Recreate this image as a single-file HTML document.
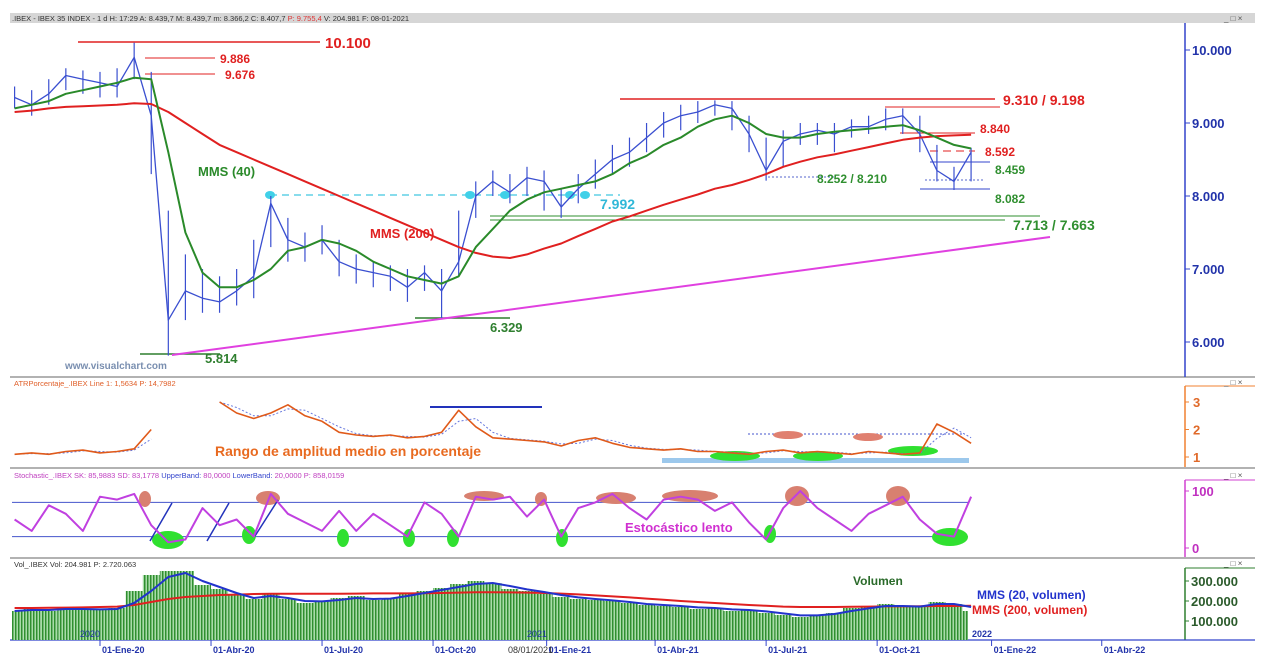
<!DOCTYPE html>
<html><head><meta charset="utf-8"><style>
body{margin:0;background:#fff;font-family:"Liberation Sans",sans-serif;}
svg{display:block}
</style></head><body>
<svg id="c" width="1267" height="667" viewBox="0 0 1267 667" xmlns="http://www.w3.org/2000/svg">
<defs>
<pattern id="volpat" width="3" height="10" patternUnits="userSpaceOnUse"><rect width="1.6" height="10" fill="#2f8f2f"/><rect x="1.6" width="1.4" height="10" fill="#a8dca8"/></pattern>
</defs>
<rect width="1267" height="667" fill="#fff"/>
<rect x="10" y="13" width="1245" height="10" fill="#d6d6d6"/>
<text x="12" y="21" font-size="7.5" fill="#333">.IBEX - IBEX 35 INDEX -  1 d  H: 17:29  A: 8.439,7  M: 8.439,7  m: 8.366,2  C: 8.407,7  <tspan fill="#d33">P: 9.755,4</tspan>  V: 204.981  F: 08-01-2021</text>
<text x="1224" y="21" font-size="8" fill="#555">_ □ ×</text>
<g stroke="#999" stroke-width="1.5" fill="none">
<line x1="10" y1="377" x2="1255" y2="377"/><line x1="10" y1="468" x2="1255" y2="468"/><line x1="10" y1="558" x2="1255" y2="558"/>
</g>
<line x1="1185" y1="23" x2="1185" y2="377" stroke="#3344cc" stroke-width="1.5"/>
<line x1="1185" y1="386" x2="1185" y2="467" stroke="#f08030" stroke-width="1.5"/><line x1="1185" y1="386" x2="1255" y2="386" stroke="#f08030"/>
<line x1="1185" y1="480" x2="1185" y2="557" stroke="#d040d0" stroke-width="1.5"/><line x1="1185" y1="480" x2="1255" y2="480" stroke="#d040d0"/>
<line x1="1185" y1="568" x2="1185" y2="640" stroke="#2f7f2f" stroke-width="1.5"/><line x1="1185" y1="568" x2="1255" y2="568" stroke="#2f7f2f"/>
<line x1="10" y1="640" x2="1255" y2="640" stroke="#3344cc" stroke-width="1.2"/>
<g font-size="8" fill="#555"><text x="1224" y="385">_ □ ×</text><text x="1224" y="478">_ □ ×</text><text x="1224" y="566">_ □ ×</text></g>
<text x="14" y="386" font-size="7.5" fill="#e0602a">ATRPorcentaje_.IBEX Line 1: 1,5634  P: 14,7982</text>
<text x="14" y="478" font-size="7.5" fill="#c040c0">Stochastic_.IBEX  SK: 85,9883  SD: 83,1778  <tspan fill="#3344cc">UpperBand:</tspan> 80,0000  <tspan fill="#3344cc">LowerBand:</tspan> 20,0000  P: 858,0159</text>
<text x="14" y="567" font-size="7.5" fill="#333">Vol_.IBEX  Vol: 204.981  P: 2.720.063</text>
<g id="g"></g>
</svg>
<script>
const priceClose=[9.35,9.25,9.4,9.65,9.6,9.55,9.5,9.9,9.1,6.3,6.7,6.6,6.55,6.7,6.9,7.9,7.4,7.3,7.4,7.1,7.0,6.95,6.9,6.75,6.95,6.7,7.1,8.0,8.2,8.05,8.25,8.2,7.85,8.1,8.3,8.5,8.6,8.8,9.0,9.1,9.15,9.25,9.2,8.85,8.35,8.75,8.85,8.9,8.85,8.95,8.95,9.05,9.1,8.85,8.35,8.2,8.6];
const priceHigh=[9.5,9.45,9.6,9.75,9.72,9.7,9.75,10.1,9.7,7.8,7.2,7.0,6.9,7.0,7.4,8.0,7.7,7.5,7.6,7.4,7.2,7.1,7.05,7.0,7.05,7.0,7.8,8.2,8.35,8.3,8.4,8.35,8.1,8.3,8.5,8.7,8.8,9.0,9.15,9.25,9.3,9.31,9.3,9.1,8.8,8.9,9.0,9.0,9.0,9.05,9.1,9.2,9.2,9.1,8.7,8.4,8.66];
const priceLow=[9.2,9.1,9.25,9.45,9.4,9.35,9.35,9.6,8.3,5.814,6.3,6.4,6.4,6.5,6.6,7.3,7.1,7.1,7.2,6.9,6.8,6.75,6.7,6.55,6.7,6.329,6.9,7.7,8.0,7.9,8.0,7.8,7.7,7.9,8.1,8.3,8.4,8.6,8.8,8.9,9.0,9.1,8.9,8.6,8.21,8.4,8.7,8.7,8.6,8.8,8.85,8.9,8.85,8.6,8.2,8.082,8.2];
const mms40=[9.2,9.25,9.3,9.4,9.45,9.5,9.55,9.62,9.6,8.6,7.5,6.95,6.75,6.75,6.85,7.0,7.25,7.3,7.4,7.35,7.25,7.1,7.0,6.9,6.85,6.8,6.9,7.3,7.55,7.8,7.95,8.05,8.1,8.15,8.2,8.3,8.45,8.55,8.7,8.8,8.95,9.05,9.1,9.0,8.85,8.8,8.8,8.85,8.88,8.9,8.92,8.95,8.97,8.9,8.8,8.7,8.65];
const mms200=[9.15,9.17,9.2,9.22,9.23,9.24,9.25,9.27,9.26,9.15,9.0,8.85,8.7,8.6,8.5,8.4,8.3,8.2,8.1,8.0,7.9,7.8,7.7,7.6,7.5,7.4,7.3,7.22,7.17,7.15,7.2,7.28,7.35,7.45,7.55,7.65,7.72,7.8,7.88,7.95,8.02,8.1,8.15,8.22,8.3,8.4,8.47,8.53,8.57,8.62,8.67,8.72,8.77,8.8,8.82,8.83,8.84];
const atr=[1.1,1.15,1.1,1.2,1.25,1.15,1.2,1.3,2.0,null,null,null,3.0,2.6,2.4,2.6,2.9,2.5,2.3,1.9,1.8,1.75,1.8,1.7,1.75,1.9,2.7,2.1,1.7,1.65,1.6,1.55,1.4,1.6,1.7,1.5,1.35,1.3,1.25,1.3,1.2,1.2,1.15,1.1,1.2,1.25,1.15,1.2,1.15,1.1,1.2,1.15,1.1,1.15,2.2,1.9,1.5];
const stoch=[50,30,75,60,30,90,85,95,40,10,15,70,40,50,20,95,60,45,30,65,30,60,40,20,80,60,20,90,85,90,55,85,20,70,80,95,70,50,85,90,85,65,80,45,15,70,100,70,50,30,60,75,90,50,25,20,90];
const volume=[150,160,150,170,160,155,165,250,330,370,350,280,260,230,210,240,210,190,200,215,225,205,215,235,250,265,285,300,290,260,250,235,220,210,205,200,190,180,175,170,160,165,150,155,140,130,120,130,140,165,175,185,170,175,195,185,150];
const volMa20=[150,155,155,160,160,158,160,190,250,320,340,300,270,240,215,225,215,200,198,205,215,210,212,225,240,255,270,285,290,275,258,245,230,218,210,203,195,185,180,175,168,165,158,155,148,138,128,128,135,150,163,175,175,172,185,185,170];
const volMa200=[165,165,166,167,168,170,172,180,195,210,220,225,230,232,235,236,236,236,236,236,237,238,238,238,239,240,242,244,244,243,242,240,237,233,228,223,218,212,206,200,195,190,185,180,176,172,170,170,170,171,172,173,173,174,175,175,176];
const priceTicks=["6.000","7.000","8.000","9.000","10.000"];
const atrTicks=["1","2","3"];
const stochTicks=["0","100"];
const volTicks=["100.000","200.000","300.000"];
const dateLabels=["01-Ene-20","01-Abr-20","01-Jul-20","01-Oct-20","01-Ene-21","01-Abr-21","01-Jul-21","01-Oct-21","01-Ene-22","01-Abr-22"];
const dateWeeks=[0,13,26,39,52.3,65,78,91,104.4,117.3];

const NS="http://www.w3.org/2000/svg",G=document.getElementById('g');
const xW=w=>100+w*8.54;
const xI=i=>xW(-10+2*i);
const yP=v=>196-(v-8)*73;
const yA=v=>457-(v-1)*27.5;
const yS=v=>548-v*0.57;
const yV=v=>641-v*0.2;
function el(t,a,p){const e=document.createElementNS(NS,t);for(const k in a)e.setAttribute(k,a[k]);(p||G).appendChild(e);return e;}
function txt(x,y,s,a){const e=el('text',Object.assign({x:x,y:y},a));e.textContent=s;return e;}
function poly(arr,yf,stroke,w,extra){let segs=[],cur=[];arr.forEach((v,i)=>{if(v==null){if(cur.length)segs.push(cur);cur=[];}else cur.push(xI(i).toFixed(1)+','+yf(v).toFixed(1));});if(cur.length)segs.push(cur);return segs.map(s=>el('polyline',Object.assign({points:s.join(' '),fill:'none',stroke:stroke,'stroke-width':w,'stroke-linejoin':'round'},extra||{})));}

txt(65,369,'www.visualchart.com',{'font-size':10,fill:'#7a8fb0','font-weight':'bold'});

priceTicks.forEach(t=>{const v=parseFloat(t.replace('.',''))/1000;const y=yP(v);
 const l=el('line',{x1:1185,y1:y,x2:1190,y2:y,stroke:'#3344cc'});
 const e=txt(1192,y+5,t,{'font-size':13,'font-weight':'bold',fill:'#2233aa'});});
atrTicks.forEach(t=>{const y=yA(+t);el('line',{x1:1185,y1:y,x2:1189,y2:y,stroke:'#f08030'});
 const e=txt(1193,y+5,t,{'font-size':13,'font-weight':'bold',fill:'#e06a2a'});});
stochTicks.forEach(t=>{const y=yS(+t);el('line',{x1:1185,y1:y,x2:1189,y2:y,stroke:'#d040d0'});
 const e=txt(1192,y+5,t,{'font-size':13,'font-weight':'bold',fill:'#c030c0'});});
volTicks.forEach(t=>{const v=parseFloat(t.replace('.',''))/1000*1;const y=yV(v);el('line',{x1:1185,y1:y,x2:1189,y2:y,stroke:'#2f7f2f'});
 const e=txt(1191,y+5,t,{'font-size':13,'font-weight':'bold',fill:'#2a5a2a'});});

const ann=[[78,42,320,42,'#e02020',1.5],[145,58,215,58,'#e02020',1],[145,74,215,74,'#e02020',1],[620,99,995,99,'#e02020',1.5],[885,107,1000,107,'#e02020',1],[900,133,975,133,'#e02020',1],[930,162,990,162,'#3344cc',1],[920,189,990,189,'#3344cc',1],[490,216,1040,216,'#2f8f2f',1],[490,220,1005,220,'#2f8f2f',1],[415,318,510,318,'#2f7f2f',1.5],[140,354,220,354,'#2f7f2f',1.5]];
ann.forEach(a=>el('line',{x1:a[0],y1:a[1],x2:a[2],y2:a[3],stroke:a[4],'stroke-width':a[5]}));
el('line',{x1:930,y1:151,x2:975,y2:151,stroke:'#e02020','stroke-dasharray':'8,5'});
el('line',{x1:768,y1:177,x2:835,y2:177,stroke:'#5566cc','stroke-dasharray':'2,2'});
el('line',{x1:925,y1:180,x2:985,y2:180,stroke:'#5566cc','stroke-dasharray':'2,2'});
el('line',{x1:270,y1:195,x2:620,y2:195,stroke:'#40c8e0','stroke-dasharray':'7,5','stroke-width':1.2});
[270,470,505,570,585].forEach(x=>el('ellipse',{cx:x,cy:195,rx:5,ry:4,fill:'#40d0e8'}));
const trend=el('line',{x1:172,y1:355,x2:1050,y2:237,stroke:'#e040e0','stroke-width':2});

priceClose.forEach((c,i)=>{const x=xI(i);const b=el('line',{x1:x,y1:yP(priceHigh[i]),x2:x,y2:yP(priceLow[i]),stroke:'#3a4fd0','stroke-width':1.2});
 });
poly(priceClose,yP,'#3a4fd0',1.3).forEach(p=>{});
poly(mms200,yP,'#e02020',2).forEach(p=>{});
poly(mms40,yP,'#2a8a2a',2).forEach(p=>{});

const labs=[[325,48,'10.100','#e02020',15],[220,63,'9.886','#e02020',12],[225,79,'9.676','#e02020',12],[1003,105,'9.310 / 9.198','#e02020',14],[980,133,'8.840','#e02020',12],[985,156,'8.592','#e02020',12],[995,174,'8.459','#2f8f2f',12],[817,183,'8.252 / 8.210','#2f8f2f',12],[995,203,'8.082','#2f8f2f',12],[600,209,'7.992','#30b8d8',14],[1013,230,'7.713 / 7.663','#2f8f2f',14],[198,176,'MMS (40)','#2a8a2a',13],[370,238,'MMS (200)','#e02020',13],[490,332,'6.329','#2f7f2f',13],[205,363,'5.814','#2f7f2f',13]];
labs.forEach(l=>{const e=txt(l[0],l[1],l[2],{'font-size':l[4],'font-weight':'bold',fill:l[3]});});

el('line',{x1:430,y1:407,x2:542,y2:407,stroke:'#2233bb','stroke-width':2});
el('line',{x1:748,y1:434,x2:965,y2:434,stroke:'#4455cc','stroke-dasharray':'2,2'});
el('rect',{x:662,y:458,width:307,height:5,fill:'#9cc8ec'});
[[735,456,25,5],[818,456,25,5],[913,451,25,5]].forEach(e=>el('ellipse',{cx:e[0],cy:e[1],rx:e[2],ry:e[3],fill:'#30e030'}));
[[788,435,15,4],[868,437,15,4]].forEach(e=>el('ellipse',{cx:e[0],cy:e[1],rx:e[2],ry:e[3],fill:'#e08070'}));
const atrSig=atr.map((v,i)=>v==null?null:(i>0&&atr[i-1]!=null?(v+atr[i-1])/2:v));
poly(atrSig,yA,'#6677dd',1,{'stroke-dasharray':'2,2'});
poly(atr,yA,'#e05a1a',1.6).forEach(p=>{});
txt(215,456,'Rango de amplitud medio en porcentaje',{'font-size':14,'font-weight':'bold',fill:'#e86a20'});

el('line',{x1:12,y1:yS(80),x2:968,y2:yS(80),stroke:'#4455cc'});el('line',{x1:12,y1:yS(20),x2:968,y2:yS(20),stroke:'#4455cc'});
[[168,540,16,9],[249,535,7,9],[343,538,6,9],[409,538,6,9],[453,538,6,9],[562,538,6,9],[770,534,6,9],[950,537,18,9]].forEach(e=>el('ellipse',{cx:e[0],cy:e[1],rx:e[2],ry:e[3],fill:'#30e030'}));
[[145,499,6,8],[268,498,12,7],[484,496,20,5],[541,499,6,7],[616,498,20,6],[690,496,28,6],[797,496,12,10],[898,496,12,10]].forEach(e=>el('ellipse',{cx:e[0],cy:e[1],rx:e[2],ry:e[3],fill:'#d88070'}));
el('line',{x1:150,y1:541,x2:172,y2:503,stroke:'#2233bb','stroke-width':1.5});el('line',{x1:207,y1:541,x2:229,y2:503,stroke:'#2233bb','stroke-width':1.5});
el('line',{x1:255,y1:536,x2:278,y2:500,stroke:'#2233bb','stroke-width':1.5});
poly(stoch,yS,'#c040e0',2).forEach(p=>{});
txt(625,532,'Estocástico lento',{'font-size':13,'font-weight':'bold',fill:'#d030d0'});

volume.forEach((v,i)=>{const x=xI(i);const y=yV(Math.min(v,350));const x0=Math.max(12,x-8.5),x1=Math.min(968,x+8.5);const r=el('rect',{x:x0,y:y,width:x1-x0,height:640-y,fill:'url(#volpat)'});
 });
poly(volMa200,yV,'#e02020',2).forEach(p=>{});
poly(volMa20,yV,'#2233cc',2).forEach(p=>{});
txt(853,585,'Volumen',{'font-size':12,'font-weight':'bold',fill:'#2a6a2a'});
txt(977,599,'MMS (20, volumen)',{'font-size':12,'font-weight':'bold',fill:'#2233cc'});
txt(972,614,'MMS (200, volumen)',{'font-size':12,'font-weight':'bold',fill:'#e02020'});

dateLabels.forEach((d,i)=>{const x=xW(dateWeeks[i]);el('line',{x1:x,y1:640,x2:x,y2:646,stroke:'#3344cc'});
 const e=txt(x+2,653,d,{'font-size':9,'font-weight':'bold',fill:'#2233aa'});});
txt(80,637,'2020',{'font-size':9,fill:'#2233aa'});txt(527,637,'2021',{'font-size':9,fill:'#2233aa'});txt(972,637,'2022',{'font-size':9,'font-weight':'bold',fill:'#2233aa'});
txt(508,653,'08/01/2021',{'font-size':9,fill:'#333'});
</script>
</body></html>
